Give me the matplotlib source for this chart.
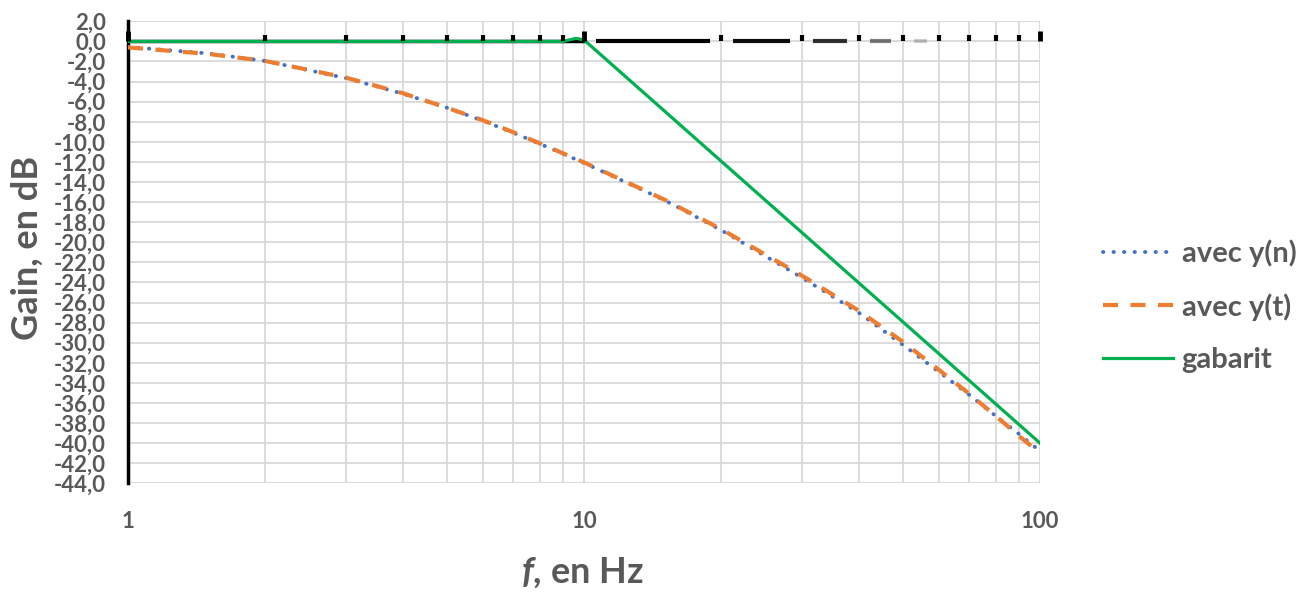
import numpy as np
import matplotlib
matplotlib.use("Agg")
import matplotlib.pyplot as plt
from matplotlib.ticker import LogLocator, NullFormatter

plt.rcParams['font.family'] = ['Lato', 'DejaVu Sans']
plt.rcParams['mathtext.fontset'] = 'custom'
plt.rcParams['mathtext.bfit'] = 'Lato:italic:bold'

# fréquences (Hz) et gains (dB)
freqs = [1, 1.5, 2, 3, 4, 5, 6, 7, 8, 9, 10, 15, 20, 30, 40, 50, 60, 70, 80, 90, 100]
gain_yn = [-0.55, -1.2, -1.95, -3.65, -5.2, -6.6, -7.9, -9.1, -10.2, -11.2, -12.1,
           -15.8, -18.8, -23.5, -27.0, -30.2, -32.9, -35.2, -37.3, -39.1, -40.8]
gain_yt = [-0.6, -1.25, -1.95, -3.6, -5.15, -6.6, -7.85, -9.05, -10.15, -11.15, -12.05,
           -15.75, -18.7, -23.3, -26.8, -29.9, -32.7, -35.1, -37.3, -39.3, -41.0]

f_gabarit = [1, 9, 9.6, 10, 100]
g_gabarit = [0, 0, 0.3, 0.15, -40]

yticks = np.arange(-44, 3, 2)
ytick_labels = [f"{v:.1f}".replace('.', ',') for v in yticks]
xticks = [1, 10, 100]
xtick_labels = ["1", "10", "100"]

grey = '#595959'

fig = plt.figure(figsize=(13.15, 5.96), dpi=100)
ax = fig.add_axes([128/1315, 1 - 483.3/596, 912/1315, 462/596])

ax.set_xscale('log')
ax.set_xlim(1, 100)
ax.set_ylim(-44, 2)

ax.plot(freqs, gain_yn, color='#4472C4', lw=2.8, linestyle=(0, (0.1, 2.6)),
        dash_capstyle='round', label='avec y(n)', zorder=3)
ax.plot(freqs, gain_yt, color='#ED7D31', lw=3.0, linestyle=(0, (3.6, 3.0)),
        label='avec y(t)', zorder=4)

# axe horizontal à 0 dB (trait qui s'estompe vers la droite)
ax.plot([1, 10], [0, 0], color='black', lw=2.5, zorder=2)
fade = [(10, 20, 1.0), (20, 30, 0.95), (30, 40, 0.8), (40, 50, 0.5), (50, 60, 0.2)]
for a, b, alpha in fade:
    ax.plot([a * 1.06, b / 1.06], [0, 0], color='black', lw=3, alpha=alpha,
            solid_capstyle='butt', zorder=2)

ax.plot(f_gabarit, g_gabarit, color='#00B050', lw=2.3, label='gabarit', zorder=5)

sec = ax.secondary_xaxis(44 / 46)
sec.set_zorder(6)
sec.spines['top'].set_visible(False)
sec.spines['bottom'].set_visible(False)
sec.xaxis.set_major_locator(LogLocator(base=10))
sec.xaxis.set_minor_locator(LogLocator(base=10, subs=np.arange(2, 10)))
sec.tick_params(which='major', length=7, width=3.5, color='black', direction='out', pad=0)
sec.tick_params(which='minor', length=4.5, width=3, color='black', direction='out', pad=0)
sec.tick_params(which='both', labeltop=False, labelbottom=False)

ax.set_yticks(yticks)
ax.set_yticklabels(ytick_labels)
ax.set_xticks(xticks)
ax.set_xticklabels(xtick_labels)
ax.xaxis.set_minor_locator(LogLocator(base=10, subs=np.arange(2, 10)))
ax.xaxis.set_minor_formatter(NullFormatter())

ax.tick_params(axis='y', length=0, pad=16, labelsize=16, labelcolor=grey)
ax.tick_params(axis='x', which='both', length=0, pad=20, labelsize=16, labelcolor=grey)
for lab in ax.get_xticklabels() + ax.get_yticklabels():
    lab.set_fontweight('bold')

ax.grid(True, which='both', axis='x', color='#d9d9d9', lw=1.3)
ax.grid(True, which='major', axis='y', color='#d9d9d9', lw=1.3)
ax.set_axisbelow(True)

for s in ['top', 'right', 'bottom']:
    ax.spines[s].set_visible(False)
ax.spines['left'].set_color('black')
ax.spines['left'].set_linewidth(2.5)

fig.text(27/1315, 1 - 248/596, 'Gain, en dB', rotation=90, ha='center', va='center',
         fontsize=26, fontweight='bold', color=grey)
fig.text(582/1315, 1 - 573/596, r'$\mathbfit{f}$, en Hz', ha='center', va='center',
         fontsize=26, fontweight='bold', color=grey)

leg = ax.legend(loc='center left', bbox_to_anchor=(1103/1315, 1 - 306/596),
                bbox_transform=fig.transFigure, frameon=False, borderpad=0,
                borderaxespad=0, handlelength=2.4, handletextpad=0.3,
                labelspacing=0.9, prop={'size': 21, 'weight': 'bold'})
for t in leg.get_texts():
    t.set_color(grey)

fig.savefig('out.png', dpi=100)
